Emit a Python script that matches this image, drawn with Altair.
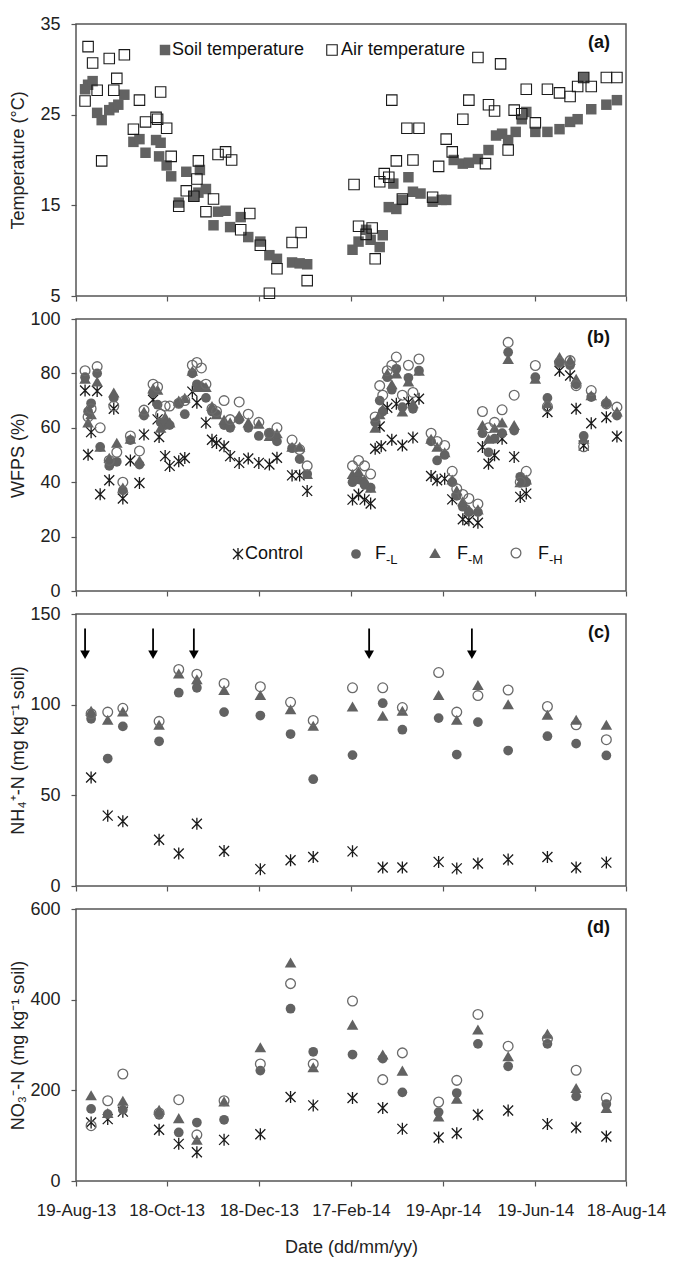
import altair as alt
import pandas as pd

FONT = "Liberation Sans"
GRAY = "#626262"
DARK = "#1a1a1a"
OPEN = "#6a6a6a"
W, H = 550, 272

START, END = "2013-08-19", "2014-08-18"
tick_dates = ["2013-08-19", "2013-10-18", "2013-12-18", "2014-02-17",
              "2014-04-19", "2014-06-19", "2014-08-18"]

# ---------------- (a) temperature: day offsets from 19-Aug-13 ----------------
soil_days = [6, 8, 11, 14, 17, 22, 25, 28, 32, 38, 42, 46, 53, 55, 56, 60, 63, 68, 73, 78,
             81, 82, 86, 91, 94, 99, 102, 109, 114, 122, 128, 133, 143, 148, 153,
             183, 187, 192, 195, 201, 203, 207, 210, 212, 216, 220, 223, 228, 236, 242,
             245, 250, 256, 260, 266, 273, 278, 282, 286, 291, 295, 298, 304, 312, 320,
             327, 332, 336, 341, 351, 358]
soil_temp = [27.8, 28.3, 28.7, 25.2, 24.4, 25.5, 25.8, 26.1, 27.2, 22.0, 22.3, 20.8, 22.2, 20.4,
             21.9, 19.4, 18.2, 15.3, 18.7, 16.0, 16.4, 18.9, 16.8, 12.8, 14.3, 14.4, 12.6, 13.7,
             11.5, 11.0, 9.5, 9.1, 8.7, 8.6, 8.5,
             10.1, 11.0, 12.3, 11.2, 10.4, 11.7, 14.8, 17.4, 14.6, 15.6, 18.1, 16.5, 16.3, 15.4,
             15.6, 15.6, 20.0, 19.6, 19.7, 20.1, 21.1, 22.7, 22.9, 22.2, 23.1, 24.5, 25.3, 23.1,
             23.1, 23.4, 24.2, 24.5, 29.1, 25.6, 26.1, 26.6]
air_days = [6, 8, 11, 14, 17, 22, 25, 27, 32, 38, 42, 46, 53, 54, 56, 60, 63, 68, 73, 78,
            80, 81, 86, 91, 94, 99, 103, 109, 115, 122, 128, 133, 143, 149, 153,
            184, 187, 192, 196, 198, 201, 204, 207, 209, 212, 216, 219, 223, 227, 236, 240,
            245, 249, 256, 260, 266, 271, 273, 277, 281, 286, 290, 295, 298, 304, 312, 320,
            327, 332, 336, 341, 351, 358]
air_temp = [26.5, 32.5, 30.7, 27.7, 19.9, 31.2, 27.7, 29.0, 31.6, 23.4, 26.6, 24.2, 24.7, 24.5,
            27.5, 23.5, 20.4, 14.9, 16.6, 16.0, 17.9, 19.9, 14.3, 15.7, 20.6, 20.9, 20.0, 12.3,
            14.1, 10.6, 5.3, 8.0, 10.9, 12.0, 6.7,
            17.3, 12.7, 11.8, 12.5, 9.1, 17.6, 18.5, 18.1, 26.6, 19.9, 15.7, 23.5, 20.0, 23.5,
            15.9, 19.3, 22.3, 20.9, 24.5, 26.6, 31.3, 19.6, 26.1, 25.4, 30.6, 21.1, 25.5, 25.1,
            27.8, 24.1, 27.8, 27.4, 27.0, 28.1, 29.1, 28.1, 29.1, 29.1]

# ---------------- (b) WFPS ----------------
ctrl_b_days = [6, 8, 10, 14, 16, 22, 25, 31, 36, 42, 45, 51, 54, 55, 59, 62, 68, 72, 77, 80,
               86, 90, 93, 98, 102, 108, 114, 121, 128, 133, 143, 148, 153,
               183, 187, 191, 195, 198, 201, 202, 206, 209, 212, 216, 220, 223, 227, 235, 239,
               244, 249, 256, 260, 266, 269, 273, 277, 282, 290, 294, 298, 312, 320, 327, 331,
               336, 341, 351, 358]
ctrl_b = [73.7, 50.1, 58.4, 73.5, 35.6, 40.7, 67.0, 34.0, 48.0, 39.7, 57.5, 70.3, 63.1, 56.6,
          49.6, 46.0, 47.7, 48.9, 73.3, 69.2, 61.9, 55.6, 54.4, 53.2, 49.6, 47.1, 48.7, 47.1,
          46.5, 49.0, 42.5, 42.5, 36.8,
          33.6, 35.5, 33.6, 32.2, 52.3, 60.5, 53.2, 67.4, 55.6, 68.8, 53.5, 69.4, 56.4, 70.7,
          42.3, 40.7, 41.3, 33.7, 26.4, 26.0, 25.1, 52.9, 46.8, 49.9, 56.0, 49.3, 34.6, 35.8,
          65.8, 81.0, 79.2, 67.0, 53.5, 61.7, 63.9, 56.8]
f_b_days = [6, 8, 10, 14, 16, 22, 25, 27, 31, 36, 42, 45, 51, 54, 56, 59, 62, 68, 72, 77,
            80, 83, 86, 90, 93, 98, 102, 108, 114, 121, 128, 133, 143, 148, 153,
            183, 187, 191, 195, 198, 201, 203, 206, 209, 212, 216, 220, 223, 227, 235, 239,
            244, 249, 252, 256, 260, 266, 269, 273, 277, 282, 286, 290, 294, 298, 304, 312,
            320, 327, 331, 336, 341, 351, 358]
fl_b = [78.6, 66, 69, 80, 53, 46, 71, 47.5, 37, 55.5, 46.5, 64.5, 73, 68.5, 62, 61, 61, 69, 65,
        80, 76, 75, 71, 66, 65, 61, 60, 63, 60, 57, 58, 55, 52.5, 48.5, 43,
        40, 41, 39, 38, 62, 70, 66, 78.6, 74, 81.7, 67.6, 78.4, 67, 81, 55, 48, 50, 40, 35,
        31, 29, 29, 58, 51, 56, 58, 87.8, 59, 42, 40, 78.6, 71, 84, 83, 76, 57, 71.3, 69, 64.5]
fm_b = [78, 62, 65, 77, 53, 49, 73, 54.5, 38, 56, 48, 66, 74.5, 74, 60, 64, 62, 70, 71, 81,
        75, 75.5, 75, 68, 65, 63, 62, 64.5, 62, 61.5, 57, 58, 53, 53, 43,
        43, 44, 41, 38, 60, 65, 67, 80, 76, 80, 66, 77, 69, 81, 56, 53, 51, 41, 37,
        33, 30, 30, 61, 56, 60, 62, 85.3, 61, 40, 41, 78, 69, 86, 85, 78, 56, 72, 70, 66]
fh_b = [81, 64, 67, 82.5, 60, 48, 68, 51, 40, 57, 51.5, 66.5, 76, 75, 65, 68, 68, 69, 70, 83,
        84, 82, 76, 67, 66, 70, 63, 69.5, 65, 62, 58, 60, 55.5, 52, 46,
        46, 48, 46, 43, 64, 75.5, 72, 81, 83, 86, 72, 83, 73, 85.3, 58, 55, 53.5, 44, 37.6,
        35.5, 34, 32, 66, 60, 62, 66.6, 91.4, 72, 40, 44, 82.9, 67.8, 84, 84.7, 75.5, 53,
        73.7, 68.8, 67.6]

# ---------------- (c) NH4+-N and (d) NO3--N ----------------
n_days = [10, 21, 31, 55, 68, 80, 98, 122, 142, 157, 183, 203, 216, 240, 252, 266, 286, 312, 331, 351]
nh4_ctrl = [59.8, 38.8, 35.7, 25.5, 17.9, 34.3, 19.3, 9.3, 14.2, 16.0, 19.1, 10.2, 10.2, 13.3,
            9.7, 12.4, 14.6, 16.0, 10.2, 12.9]
nh4_fl = [92.2, 70.3, 88.0, 79.8, 106.6, 109.3, 95.9, 94.0, 83.8, 58.9, 72.2, 100.8, 86.2, 92.6,
          72.5, 90.4, 74.7, 82.6, 78.5, 72.0]
nh4_fm = [96.6, 91.7, 96.2, 88.9, 117.2, 114.0, 108.1, 105.3, 97.5, 88.4, 99.0, 93.9, 96.6,
          105.3, 91.7, 110.8, 100.2, 94.4, 91.7, 88.9]
nh4_fh = [95.0, 95.9, 98.0, 90.8, 119.4, 116.8, 111.7, 109.9, 101.3, 91.3, 109.3, 109.3, 98.4,
          117.7, 95.9, 105.0, 108.1, 99.0, 88.9, 80.7]
no3_ctrl = [129, 136.5, 153, 112.9, 81.9, 63.5, 90.8, 103.3, 185.2, 166.8, 183, 161, 115, 96,
            105.5, 146, 155.7, 125.5, 118, 98.2]
no3_fl = [159, 147.6, 157, 146, 107, 129, 135, 243.5, 380, 285, 279, 270, 195.6, 152, 194,
          302.6, 253, 302.6, 186.7, 169.7]
no3_fm = [189, 150, 177, 157, 138.7, 90.8, 175.6, 295.2, 482, 251, 345, 279, 243.5, 142.4,
          181.5, 334.3, 275, 324.7, 205, 161]
no3_fh = [122, 177, 236, 150, 179.3, 101.8, 177, 258.3, 435.4, 258.3, 397, 223.6, 282.6, 174.2,
          222, 367.5, 297.4, 314, 244.3, 183]
arrow_days = [6, 51, 78, 194, 262]

panel_labels = ["(a)", "(b)", "(c)", "(d)"]
y_titles = ["Temperature (°C)", "WFPS (%)", "NH₄⁺-N (mg kg⁻¹ soil)", "NO₃⁻-N (mg kg⁻¹ soil)"]
legend_a = ["Soil temperature", "Air temperature"]
legend_b = ["Control", "F", "F", "F"]
legend_b_sub = ["", "-L", "-M", "-H"]
x_title = "Date (dd/mm/yy)"

ASTERISK = "M-1,-1L1,1M-1,1L1,-1M0,-1.2L0,1.2"


def to_dates(days):
    base = pd.Timestamp(START)
    return [(base + pd.Timedelta(days=int(d))).strftime("%Y-%m-%d") for d in days]


def dt(s):
    t = pd.Timestamp(s)
    return alt.DateTime(year=t.year, month=t.month, date=t.day, utc=True)


def frame(days, values):
    return pd.DataFrame({"date": to_dates(days), "v": values})


def x_enc(bottom):
    ax = dict(values=[dt(s) for s in tick_dates], format="%d-%b-%y", grid=False, domain=False,
              ticks=True, tickSize=5, labels=bottom, labelFontSize=17, labelPadding=16,
              labelOverlap=False, labelFlush=False, labelBound=False,
              titleFontSize=18, titleFontWeight="normal", titlePadding=20)
    return alt.X("date:T", title=(x_title if bottom else None),
                 scale=alt.Scale(type="utc", domain=[dt(START), dt(END)]),
                 axis=alt.Axis(**ax))


def y_enc(field, domain, ticks, title):
    return alt.Y(f"{field}:Q", title=title,
                 scale=alt.Scale(domain=domain, nice=False, zero=False),
                 axis=alt.Axis(values=ticks, grid=False, domain=False, tickSize=5,
                               labelPadding=11, labelFontSize=18, titleFontSize=18,
                               labelFlush=False,
                               titleFontWeight="normal", titleX=-49))


def pts(df, yspec, bottom, **mark):
    return alt.Chart(df).mark_point(opacity=1, **mark).encode(
        x=x_enc(bottom), y=y_enc("v", *yspec))


def lab(text):
    return alt.Chart(pd.DataFrame({"t": [text]})).mark_text(
        align="right", baseline="middle", fontSize=18, fontWeight="bold", font=FONT,
        color="#111").encode(x=alt.value(W - 16), y=alt.value(19), text="t:N")


def sym(px, py, **mark):
    return alt.Chart(pd.DataFrame({"k": [0]})).mark_point(opacity=1, **mark).encode(
        x=alt.value(px), y=alt.value(py))


def txt(t, px, py, size=18):
    return alt.Chart(pd.DataFrame({"t": [t]})).mark_text(
        align="left", baseline="middle", fontSize=size, font=FONT, color="#111").encode(
        x=alt.value(px), y=alt.value(py), text="t:N")


CTRL = dict(shape=ASTERISK, filled=False, stroke=DARK, strokeWidth=1.3, size=100)
FL = dict(shape="circle", filled=True, color=GRAY, size=95)
FM = dict(shape="triangle-up", filled=True, color=GRAY, size=135)
FH = dict(shape="circle", filled=False, stroke=OPEN, strokeWidth=1.3, size=95)
SOIL = dict(shape="square", filled=True, color=GRAY, size=110)
AIR = dict(shape="square", filled=False, stroke=DARK, strokeWidth=1.1, size=110)

# ---- panel (a)
ya = ([5, 35], [5, 15, 25, 35], y_titles[0])
pa = alt.layer(
    pts(frame(soil_days, soil_temp), ya, False, **SOIL),
    pts(frame(air_days, air_temp), ya, False, **AIR),
    sym(89, 26, **SOIL), txt(legend_a[0], 96, 26),
    sym(256, 26, **AIR), txt(legend_a[1], 265, 26),
    lab(panel_labels[0]),
).properties(width=W, height=H)

# ---- panel (b)
yb = ([0, 100], [0, 20, 40, 60, 80, 100], y_titles[1])
pb = alt.layer(
    pts(frame(ctrl_b_days, ctrl_b), yb, False, **CTRL),
    pts(frame(f_b_days, fl_b), yb, False, **FL),
    pts(frame(f_b_days, fm_b), yb, False, **FM),
    pts(frame(f_b_days, fh_b), yb, False, **FH),
    sym(162, 235, **CTRL), txt(legend_b[0], 169, 235),
    sym(280, 235, **FL), txt(legend_b[1], 299, 235), txt(legend_b_sub[1], 310, 241, 13),
    sym(359, 234, **FM), txt(legend_b[2], 381, 235), txt(legend_b_sub[2], 392, 241, 13),
    sym(440, 234, **FH), txt(legend_b[3], 462, 235), txt(legend_b_sub[3], 473, 241, 13),
    lab(panel_labels[1]),
).properties(width=W, height=H)

# ---- panel (c)
yc = ([0, 150], [0, 50, 100, 150], y_titles[2])
arrows = pd.DataFrame({"date": to_dates(arrow_days)})
arrow_rule = alt.Chart(arrows).mark_rule(color="black", strokeWidth=1.8).encode(
    x=x_enc(False), y=y_enc("top", *yc[:2], yc[2]), y2=alt.datum(129)
).transform_calculate(top="142")
arrow_head = alt.Chart(arrows).mark_point(shape="triangle-down", filled=True, color="black",
                                          size=95, opacity=1).encode(
    x=x_enc(False), y=y_enc("tip", *yc[:2], yc[2])
).transform_calculate(tip="127.5")
pc = alt.layer(
    pts(frame(n_days, nh4_ctrl), yc, False, **CTRL),
    pts(frame(n_days, nh4_fl), yc, False, **FL),
    pts(frame(n_days, nh4_fm), yc, False, **FM),
    pts(frame(n_days, nh4_fh), yc, False, **FH),
    arrow_rule, arrow_head,
    lab(panel_labels[2]),
).properties(width=W, height=H)

# ---- panel (d)
yd = ([0, 600], [0, 200, 400, 600], y_titles[3])
pd_ = alt.layer(
    pts(frame(n_days, no3_ctrl), yd, True, **CTRL),
    pts(frame(n_days, no3_fl), yd, True, **FL),
    pts(frame(n_days, no3_fm), yd, True, **FM),
    pts(frame(n_days, no3_fh), yd, True, **FH),
    lab(panel_labels[3]),
).properties(width=W, height=H)

chart = alt.vconcat(pa, pb, pc, pd_, spacing=23, bounds="flush").properties(
    padding={"left": 0, "top": 6, "right": 0, "bottom": 0}
).configure_view(stroke="#555555", strokeWidth=1.5).configure_axis(
    labelFont=FONT, titleFont=FONT, labelColor="#222222", titleColor="#222222",
    tickColor="#555555", tickWidth=1.2)

chart.save("out.html", embed_options={"renderer": "svg", "actions": False})
